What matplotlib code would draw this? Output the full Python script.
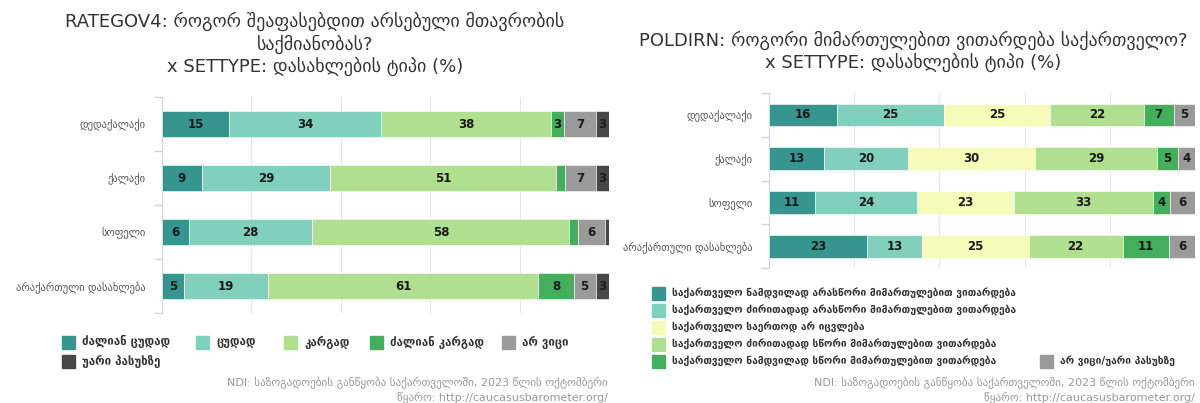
import numpy as np
import matplotlib
matplotlib.use("Agg")
import matplotlib.pyplot as plt
from matplotlib.patches import Rectangle

plt.rcParams['font.family'] = ['DejaVu Sans']

categories = ["დედაქალაქი", "ქალაქი", "სოფელი", "არაქართული დასახლება"]

# RATEGOV4 x SETTYPE
gov_series = ["ძალიან ცუდად", "ცუდად", "კარგად", "ძალიან კარგად", "არ ვიცი", "უარი პასუხზე"]
gov_colors = ['#37958f', '#81d0bd', '#b0df90', '#43ae5c', '#9a9a9a', '#474747']
gov_values = [
    [15, 9, 6, 5],
    [34, 29, 28, 19],
    [38, 51, 58, 61],
    [3, 2, 2, 8],
    [7, 7, 6, 5],
    [3, 3, 1, 3],
]

# POLDIRN x SETTYPE
dir_series = ["საქართველო ნამდვილად არასწორი მიმართულებით ვითარდება",
              "საქართველო ძირითადად არასწორი მიმართულებით ვითარდება",
              "საქართველო საერთოდ არ იცვლება",
              "საქართველო ძირითადად სწორი მიმართულებით ვითარდება",
              "საქართველო ნამდვილად სწორი მიმართულებით ვითარდება",
              "არ ვიცი/უარი პასუხზე"]
dir_colors = ['#37958f', '#81d0bd', '#f7fbb9', '#b0df90', '#43ae5c', '#9a9a9a']
dir_values = [
    [16, 13, 11, 23],
    [25, 20, 24, 13],
    [25, 30, 23, 25],
    [22, 29, 33, 22],
    [7, 5, 4, 11],
    [5, 4, 6, 6],
]

source = "NDI: საზოგადოების განწყობა საქართველოში, 2023 წლის ოქტომბერი\nწყარო: http://caucasusbarometer.org/"

W, H = 1200, 403
fig = plt.figure(figsize=(12, 4.03), dpi=100)


def px(x0, y0, x1, y1):
    # pixel box (top-left origin) -> figure fraction rect
    return [x0 / W, (H - y1) / H, (x1 - x0) / W, (y1 - y0) / H]


def stacked(ax, values, colors, bar_h):
    vals = np.array(values, dtype=float)
    totals = vals.sum(axis=0)
    pct = vals / totals * 100
    y = np.arange(len(categories))
    left = np.zeros(len(categories))
    for i in range(len(vals)):
        ax.barh(y, pct[i], left=left, height=bar_h, color=colors[i],
                edgecolor='white', linewidth=0.4, zorder=3)
        for j in range(len(categories)):
            if vals[i][j] >= 3:
                ax.text(left[j] + pct[i][j] / 2, y[j], str(int(vals[i][j])),
                        ha='center', va='center', fontsize=8.5,
                        fontweight='bold', color='#1a1a1a', zorder=4)
        left += pct[i]
    ax.set_xlim(0, 100)
    ax.set_ylim(len(categories) - 0.5, -0.5)
    ax.set_xticks([0, 20, 40, 60, 80, 100])
    ax.set_xticklabels([])
    ax.tick_params(axis='x', length=0)
    ax.grid(axis='x', color='#e6e6e6', linewidth=0.8, zorder=0)
    ax.set_yticks(np.arange(-0.5, len(categories), 1))
    ax.set_yticklabels([])
    ax.tick_params(axis='y', which='major', length=6, color='#ccd6eb', width=1)
    ax.set_yticks(y, minor=True)
    ax.set_yticklabels(categories, minor=True, fontsize=7.6, color='#555555')
    ax.tick_params(axis='y', which='minor', length=0, pad=12)
    for s in ['top', 'right', 'bottom']:
        ax.spines[s].set_visible(False)
    ax.spines['left'].set_color('#ccd6eb')


def legend_item(x, y, color, label, size):
    fig.patches.append(Rectangle((x / W, (H - y - 6.5) / H), 13 / W, 13 / H,
                                 color=color, transform=fig.transFigure, figure=fig))
    fig.text((x + 20) / W, (H - y) / H, label, ha='left', va='center',
             fontsize=size, fontweight='bold', color='#333333')


# left chart
ax1 = fig.add_axes(px(162, 97, 609, 313))
stacked(ax1, gov_values, gov_colors, 0.48)
fig.text(315 / W, (H - 44) / H,
         "RATEGOV4: როგორ შეაფასებდით არსებული მთავრობის\nსაქმიანობას?\nx SETTYPE: დასახლების ტიპი (%)",
         ha='center', va='center', fontsize=13, color='#333333', linespacing=1.2)
left_pos = [(62, 342), (196, 342), (284, 342), (370, 342), (502, 342), (62, 361)]
for (x, y), c, lab in zip(left_pos, gov_colors, gov_series):
    legend_item(x, y, c, lab, 8.3)
fig.text(608 / W, (H - 390) / H, source, ha='right', va='center',
         fontsize=8, color='#999999', linespacing=1.3)

# right chart
ax2 = fig.add_axes(px(769, 93, 1195, 268))
stacked(ax2, dir_values, dir_colors, 0.52)
fig.text(913 / W, (H - 51) / H,
         "POLDIRN: როგორი მიმართულებით ვითარდება საქართველო?\nx SETTYPE: დასახლების ტიპი (%)",
         ha='center', va='center', fontsize=13, color='#333333', linespacing=1.2)
right_pos = [(652, 293), (652, 310), (652, 327), (652, 344), (652, 361), (1040, 361)]
for (x, y), c, lab in zip(right_pos, dir_colors, dir_series):
    legend_item(x, y, c, lab, 7.4)
fig.text(1195 / W, (H - 390) / H, source, ha='right', va='center',
         fontsize=8, color='#999999', linespacing=1.3)

fig.savefig("out.png", dpi=100, facecolor='white')
